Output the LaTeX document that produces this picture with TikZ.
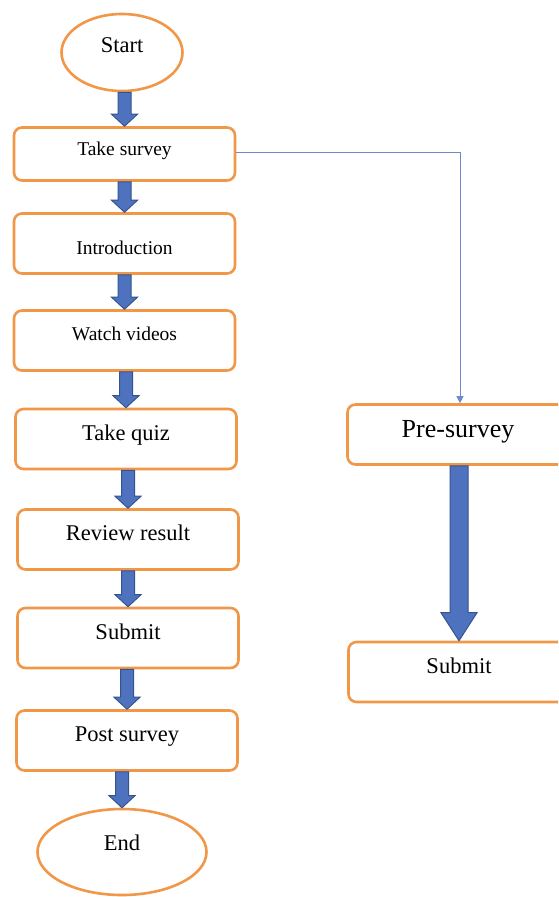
\documentclass[tikz,border=0pt]{standalone}
\usepackage{fontspec}
\setmainfont{Liberation Serif}
\usetikzlibrary{calc,arrows.meta,shapes.geometric}
\definecolor{boxorange}{RGB}{241,151,72}
\definecolor{arrowblue}{RGB}{79,114,190}
\definecolor{arrowedge}{RGB}{52,84,145}
\definecolor{lineblue}{RGB}{108,138,204}
\tikzstyle{stepbox}=[rectangle,rounded corners=8pt,draw=boxorange,line width=2.6pt,fill=white,minimum width=221pt,minimum height=60pt,inner sep=0pt,text height=15pt,text depth=13pt,font=\fontsize{22.5}{24}\selectfont]
\tikzstyle{smallbox}=[stepbox,text height=13pt,text depth=11pt,font=\fontsize{19.5}{21}\selectfont]
\tikzstyle{terminal}=[ellipse,draw=boxorange,line width=2.6pt,fill=white,inner sep=0pt,text height=15pt,text depth=15pt,font=\fontsize{22.5}{24}\selectfont]
\tikzstyle{blockarrow}=[fill=arrowblue,draw=arrowedge,line width=1pt]
% block arrow: from, to, shaft half width, head half width, head length
\newcommand{\blockarrow}[5]{%
  \draw[blockarrow] let \p1=(#1.south), \p2=(#2.north) in
    (\x2-#3,\y1) -- (\x2-#3,\y2+#5) -- (\x2-#4,\y2+#5) -- (\x2,\y2)
    -- (\x2+#4,\y2+#5) -- (\x2+#3,\y2+#5) -- (\x2+#3,\y1) -- cycle;}

\begin{document}
\begin{tikzpicture}[x=1pt,y=-1pt]
\clip (0,0) rectangle (558,897);
\fill[white] (0,0) rectangle (558,897);
\node[terminal,minimum width=121pt,minimum height=77pt] at (122, 52.5) (start) {Start};
\node[smallbox,minimum height=53pt] at (124.5, 154) (take) {Take survey};
\node[smallbox,text height=24pt,text depth=2pt] at (124.5, 243.5) (intro) {Introduction};
\node[smallbox,text depth=14pt] at (124.5, 340.5) (watch) {Watch videos};
\node[stepbox] at (126, 439) (quiz) {Take quiz};
\node[stepbox] at (128, 539.5) (review) {Review result};
\node[stepbox] at (128, 638) (submit) {Submit};
\node[stepbox] at (127, 740.5) (post) {Post survey};
\node[terminal,text depth=19pt,minimum width=169pt,minimum height=86pt] at (122, 852) (stop) {End};
\node[stepbox,text height=18pt,text depth=12pt,font=\fontsize{26}{28}\selectfont] at (458, 434.5) (pre) {Pre-survey};
\node[stepbox] at (459, 672) (presubmit) {Submit};
\blockarrow{start}{take}{6.5pt}{13pt}{12pt}
\blockarrow{take}{intro}{6.5pt}{13pt}{12pt}
\blockarrow{intro}{watch}{6.5pt}{13pt}{12pt}
\blockarrow{watch}{quiz}{6.5pt}{13pt}{12pt}
\blockarrow{quiz}{review}{6.5pt}{13pt}{12pt}
\blockarrow{review}{submit}{6.5pt}{13pt}{12pt}
\blockarrow{submit}{post}{6.5pt}{13pt}{12pt}
\blockarrow{post}{stop}{6.5pt}{13pt}{12pt}
\blockarrow{pre}{presubmit}{9pt}{18pt}{28pt}
\draw[lineblue,line width=1pt,-{Triangle[width=7pt,length=7pt]}] ([yshift=2pt]take.east) -| ([xshift=2pt]pre.north);
\end{tikzpicture}
\end{document}
